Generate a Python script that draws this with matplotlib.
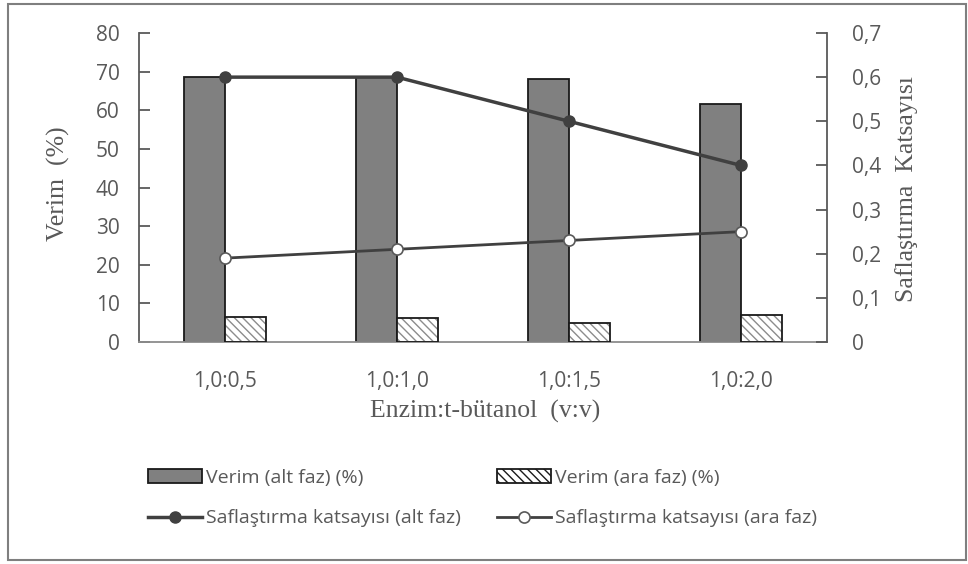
import matplotlib
matplotlib.use('Agg')
import matplotlib.pyplot as plt
from matplotlib.patches import Rectangle, Patch
from matplotlib.lines import Line2D
import numpy as np

# data
categories = ['1,0:0,5', '1,0:1,0', '1,0:1,5', '1,0:2,0']
verim_alt = [68.7, 68.6, 68.1, 61.5]
verim_ara = [6.6, 6.1, 4.8, 7.0]
saf_alt = [0.60, 0.60, 0.50, 0.40]
saf_ara = [0.19, 0.21, 0.23, 0.25]

tick_col = '#595959'
sans = ['Open Sans', 'DejaVu Sans']
serif = ['Liberation Serif', 'DejaVu Serif']

fig = plt.figure(figsize=(9.68, 5.64), dpi=100)
W, H = 968, 564
ax = fig.add_axes([139 / W, 1 - 342 / H, 688 / W, 309 / H])
ax2 = ax.twinx()

x = np.arange(len(categories))
w = 0.24
ax.bar(x - w / 2, verim_alt, w, color='#808080', edgecolor='#1a1a1a', linewidth=1.3, zorder=2)
ax.bar(x + w / 2, verim_ara, w, color='white', edgecolor='#8c8c8c', hatch='\\\\\\\\', linewidth=0, zorder=2)
ax.bar(x + w / 2, verim_ara, w, color='none', edgecolor='#1a1a1a', linewidth=1.3, zorder=3)

ax2.plot(x, saf_alt, color='#404040', lw=2.5, marker='o', ms=8, mfc='#404040', mec='#404040', zorder=4)
ax2.plot(x, saf_ara, color='#404040', lw=2.0, marker='o', ms=8, mfc='white', mec='#595959', mew=1.2, zorder=4)

ax.set_xlim(-0.5, 3.5)
ax.set_ylim(0, 80)
ax2.set_ylim(0, 0.7)
ax.set_yticks(np.arange(0, 81, 10))
ax2.set_yticks(np.arange(0, 0.71, 0.1))
ax2.set_yticklabels(['0'] + ['0,%d' % i for i in range(1, 8)])
ax.set_xticks(x)
ax.set_xticklabels(categories)

for a in (ax, ax2):
    for s in a.spines.values():
        s.set_visible(False)
ax.spines['left'].set_visible(True)
ax.spines['bottom'].set_visible(True)
ax2.spines['right'].set_visible(True)
ax.spines['left'].set_color('#595959')
ax.spines['bottom'].set_color('#8c8c8c')
ax2.spines['right'].set_color('#595959')
for s in (ax.spines['left'], ax.spines['bottom'], ax2.spines['right']):
    s.set_linewidth(1.3)

ax.tick_params(axis='y', direction='in', length=8, width=1.3, color='#595959',
               labelcolor=tick_col, labelsize=15, pad=14)
ax2.tick_params(axis='y', direction='in', length=8, width=1.3, color='#595959',
                labelcolor=tick_col, labelsize=15, pad=18)
ax.tick_params(axis='x', length=0, labelcolor=tick_col, labelsize=15, pad=21)
for lab in ax.get_xticklabels() + ax.get_yticklabels() + ax2.get_yticklabels():
    lab.set_family(sans)

fig.text(58 / W, 1 - 184 / H, 'Verim  (%)', rotation=90, ha='center', va='center',
         family=serif, fontsize=18.5, color=tick_col)
fig.text(907 / W, 1 - 189 / H, 'Saflaştırma  Katsayısı', rotation=90, ha='center', va='center',
         family=serif, fontsize=18.5, color=tick_col)
fig.text(485 / W, 1 - 411 / H, 'Enzim:t-bütanol  (v:v)', ha='center', va='center',
         family=serif, fontsize=18.5, color=tick_col)

bar_alt_h = Patch(facecolor='#808080', edgecolor='#1a1a1a', linewidth=1.3)
line_alt_h = Line2D([], [], color='#404040', lw=2.5, marker='o', ms=8, mfc='#404040', mec='#404040')
bar_ara_h = Patch(facecolor='white', edgecolor='#1a1a1a', hatch='\\\\\\\\', linewidth=1.3)
line_ara_h = Line2D([], [], color='#404040', lw=2.0, marker='o', ms=8, mfc='white', mec='#595959', mew=1.2)

legend_cols = [
    ([bar_alt_h, line_alt_h], ['Verim (alt faz) (%)', 'Saflaştırma katsayısı (alt faz)'], 148),
    ([bar_ara_h, line_ara_h], ['Verim (ara faz) (%)', 'Saflaştırma katsayısı (ara faz)'], 497),
]
for hs, ls, x0 in legend_cols:
    leg = fig.legend(hs, ls, loc='upper left', bbox_to_anchor=(x0 / W, 1 - 469 / H),
                     frameon=False, handlelength=2.8, handletextpad=0.2,
                     labelspacing=1.15, borderpad=0, borderaxespad=0,
                     prop={'family': sans, 'size': 14})
    for t in leg.get_texts():
        t.set_color(tick_col)

fig.add_artist(Rectangle((8 / W, 4 / H), 958 / W, 556 / H, transform=fig.transFigure,
                         fill=False, edgecolor='#7f7f7f', linewidth=1.5))

fig.savefig('out.png', dpi=100)
